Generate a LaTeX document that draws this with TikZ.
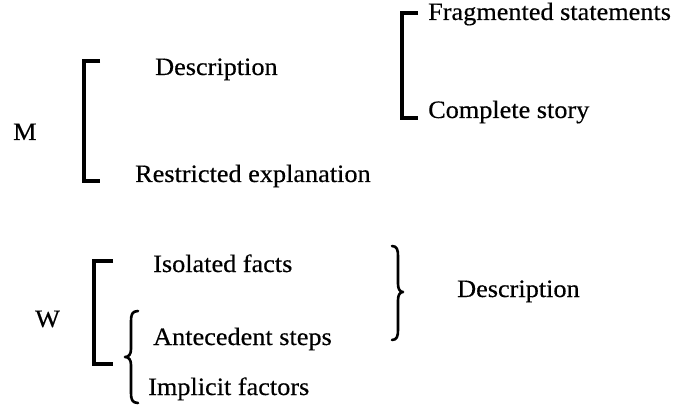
\documentclass[tikz,border=0pt]{standalone}
\usepackage{fontspec}
\setmainfont{Liberation Serif}[FakeStretch=1.05,FakeBold=0.4]
\begin{document}
\begin{tikzpicture}[x=1pt,y=-1pt,
  lbl/.style={inner sep=0pt, anchor=base west, font=\fontsize{25}{30}\selectfont},
  bracket/.style={line width=3.5pt, line cap=butt, line join=miter},
  brace/.style={line width=2.6pt, line cap=round, line join=round}]
\useasboundingbox (0,0) rectangle (677,406);

% upper group
\node[lbl] (m) at (13,140) {M};
\node[lbl] (mdesc) at (155,75) {Description};
\node[lbl] (mrestr) at (135,182) {Restricted explanation};
\node[lbl] (frag) at (428,20) {Fragmented statements};
\node[lbl] (compl) at (428,118) {Complete story};

\coordinate (mt) at (100,61);
\coordinate (mb) at (100,181);
\draw[bracket] (mt) -- (84,61) -- (84,181) -- (mb);

\coordinate (dt) at (418,13);
\coordinate (db) at (418,118);
\draw[bracket] (dt) -- (402,13) -- (402,118) -- (db);

% lower group
\node[lbl] (w) at (35,327) {W};
\node[lbl] (iso) at (153,272) {Isolated facts};
\node[lbl] (ante) at (153,345) {Antecedent steps};
\node[lbl] (impl) at (148,395) {Implicit factors};
\node[lbl] (wdesc) at (457,297) {Description};

\coordinate (wt) at (113,261);
\coordinate (wb) at (113,364);
\draw[bracket] (wt) -- (94,261) -- (94,364) -- (wb);

% left curly brace
\coordinate (lbt) at (138,311);
\coordinate (lbb) at (138,403);
\draw[brace] (lbt) .. controls (132,311) and (131,315) .. (131,321)
  -- (131,349) .. controls (131,354) and (129,357) .. (125,357)
  .. controls (129,357) and (131,360) .. (131,365)
  -- (131,393) .. controls (131,399) and (132,403) .. (lbb);

% right curly brace
\coordinate (rbt) at (392,246);
\coordinate (rbb) at (392,340);
\draw[brace] (rbt) .. controls (397,246) and (398,250) .. (398,256)
  -- (398,284) .. controls (398,289) and (400,292) .. (403,292)
  .. controls (400,292) and (398,295) .. (398,300)
  -- (398,330) .. controls (398,336) and (397,340) .. (rbb);
\end{tikzpicture}
\end{document}
